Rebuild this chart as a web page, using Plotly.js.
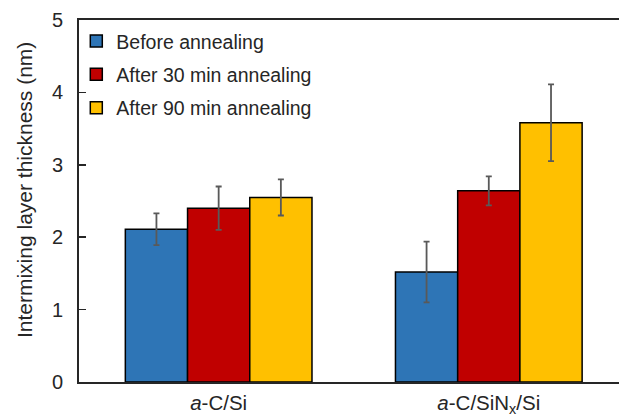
<!DOCTYPE html>
<html>
<head>
<meta charset="utf-8">
<script src="https://cdn.plot.ly/plotly-3.0.1.min.js"></script>
<style>html,body{margin:0;padding:0;background:#fff;}#chart{width:619px;height:415px;}</style>
</head>
<body>
<div id="chart"></div>
<script>
var categories = ["<i>a</i>-C/Si", "<i>a</i>-C/SiN<sub>x</sub>/Si"];
var seriesNames = ["Before annealing", "After 30 min annealing", "After 90 min annealing"];
var yTitle = "Intermixing layer thickness (nm)";
var beforeVals = [2.11, 1.52];
var beforeErr = [0.22, 0.42];
var after30Vals = [2.40, 2.64];
var after30Err = [0.30, 0.20];
var after90Vals = [2.55, 3.58];
var after90Err = [0.25, 0.53];
var colors = ["#2E75B6", "#C00000", "#FFC000"];

var vals = [beforeVals, after30Vals, after90Vals];
var errs = [beforeErr, after30Err, after90Err];
var traces = vals.map(function(v, i) {
  return {
    type: "bar",
    name: seriesNames[i],
    x: categories,
    y: v,
    legendgroup: "g" + i,
    marker: {color: colors[i], line: {color: "#000000", width: 1.5}},
    error_y: {type: "data", array: errs[i], visible: true, color: "#595959", thickness: 1.8, width: 3}
  };
});

var layout = {
  width: 619, height: 415,
  margin: {l: 79, r: 0, t: 20, b: 33},
  paper_bgcolor: "#ffffff", plot_bgcolor: "#ffffff",
  font: {family: "Liberation Sans, Arial, sans-serif", color: "#262626"},
  barmode: "group", bargap: 0.309, bargroupgap: 0,
  showlegend: true,
  legend: {x: -0.005, y: 0.995, xanchor: "left", yanchor: "top", bgcolor: "rgba(0,0,0,0)",
           font: {size: 19.5, color: "#262626"}, traceorder: "grouped", tracegroupgap: 5, itemwidth: 30},
  xaxis: {
    type: "category", range: [-0.517, 1.482], showline: true, linecolor: "#262626", linewidth: 2,
    mirror: true, ticks: "", showgrid: false, zeroline: false,
    tickfont: {size: 20.5, color: "#262626"}, ticklabelstandoff: 1
  },
  yaxis: {
    range: [0, 5], dtick: 1, showline: true, linecolor: "#262626", linewidth: 2,
    ticks: "inside", ticklen: 7, tickwidth: 1.5, tickcolor: "#262626",
    showgrid: false, zeroline: false, tickfont: {size: 20, color: "#262626"},
    ticklabelstandoff: 10
  },
  annotations: [{
    text: yTitle, xref: "paper", yref: "paper", x: -0.102, y: 0.530,
    xanchor: "center", yanchor: "middle", textangle: -90, showarrow: false,
    font: {size: 21, color: "#262626"}
  }]
};

Plotly.newPlot("chart", traces, layout, {displayModeBar: false, staticPlot: true});
</script>
</body>
</html>
